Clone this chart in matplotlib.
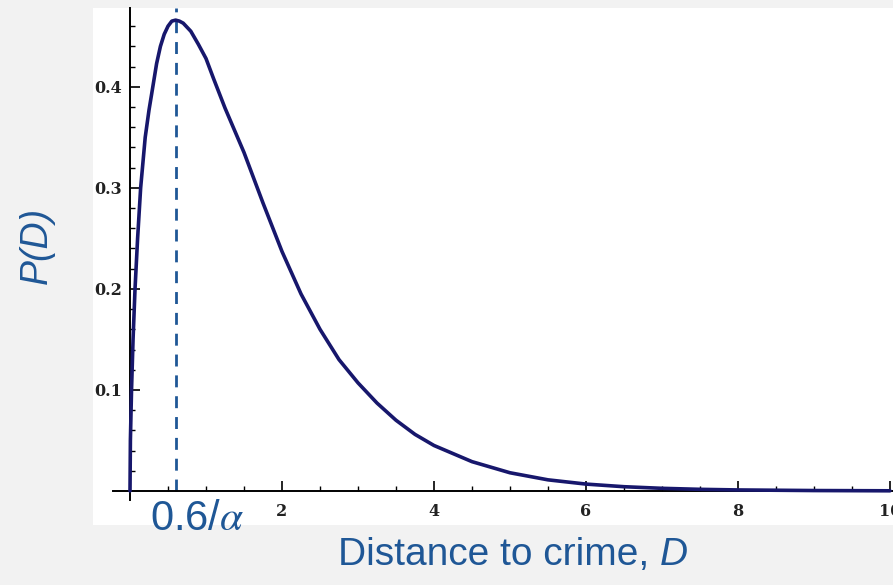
import matplotlib
matplotlib.use("Agg")
import matplotlib.pyplot as plt
import numpy as np
from matplotlib.ticker import FixedLocator

# values
distance = [0.0, 0.005, 0.02, 0.04, 0.066, 0.1, 0.14, 0.2, 0.25, 0.285, 0.35,
            0.4, 0.45, 0.5, 0.55, 0.6, 0.65, 0.7, 0.75, 0.8, 0.9, 1.0, 1.1,
            1.25, 1.5, 1.75, 2.0, 2.25, 2.5, 2.75, 3.0, 3.25, 3.5, 3.75, 4.0,
            4.5, 5.0, 5.5, 6.0, 6.5, 7.0, 7.5, 8.0, 9.0, 10.0]
prob = [0.0, 0.05, 0.10, 0.15, 0.20, 0.25, 0.30, 0.35, 0.377, 0.393, 0.423,
        0.440, 0.452, 0.460, 0.465, 0.466, 0.465, 0.463, 0.459, 0.455, 0.442,
        0.428, 0.408, 0.379, 0.335, 0.285, 0.237, 0.195, 0.16, 0.13, 0.107,
        0.087, 0.07, 0.056, 0.045, 0.029, 0.018, 0.011, 0.0068, 0.0042,
        0.0026, 0.0016, 0.001, 0.0004, 0.00015]
mode_x = 0.6
x_ticks = [2, 4, 6, 8, 10]
y_ticks = [0.1, 0.2, 0.3, 0.4]

text_blue = "#1f5796"
curve_col = "#17176c"
plt.rcParams["mathtext.fontset"] = "stix"

fig = plt.figure(figsize=(8.93, 5.85), dpi=100, facecolor="#f2f2f2")
ax = fig.add_axes([93 / 893, 60 / 585, 800 / 893, 517 / 585])
ax.set_facecolor("white")

ax.plot(distance, prob, color=curve_col, lw=2.6, solid_capstyle="round",
        solid_joinstyle="round", zorder=3)
ax.plot([mode_x, mode_x], [0, 0.478], color=text_blue, lw=2.0,
        dashes=(4.3, 3.2), zorder=2)

ax.set_xlim(-0.487, 10.04)
ax.set_ylim(-0.0337, 0.478)

for s in ["top", "right"]:
    ax.spines[s].set_visible(False)
ax.spines["left"].set_position(("data", 0))
ax.spines["bottom"].set_position(("data", 0))
ax.spines["left"].set_bounds(-0.009, 0.478)
ax.spines["bottom"].set_bounds(-0.22, 10.05)
ax.spines["left"].set_linewidth(1.4)
ax.spines["bottom"].set_linewidth(1.4)

# minor ticks only inside the drawn range
x_minor = [v for v in np.arange(0.5, 10.0, 0.5) if v % 2 != 0]
y_minor = [round(v, 2) for v in np.arange(0.02, 0.47, 0.02)]
ax.xaxis.set_major_locator(FixedLocator(x_ticks))
ax.xaxis.set_minor_locator(FixedLocator(x_minor))
ax.yaxis.set_major_locator(FixedLocator(y_ticks))
ax.yaxis.set_minor_locator(FixedLocator(y_minor))
ax.set_xticklabels([str(v) for v in x_ticks])
ax.set_yticklabels([str(v) for v in y_ticks])
ax.tick_params(which="major", direction="in", length=7, width=1.2)
ax.tick_params(axis="x", which="major", pad=9)
ax.tick_params(axis="y", which="major", pad=6)
ax.tick_params(which="minor", direction="in", length=3.5, width=1.0)
for lab in ax.get_xticklabels() + ax.get_yticklabels():
    lab.set_fontfamily("DejaVu Serif")
    lab.set_fontweight("bold")
    lab.set_fontsize(11.5)
    lab.set_color("#222222")

fig.text(37 / 893, 1 - 245 / 585, "P(D)", rotation=90,
         ha="center", va="center", fontsize=27, style="italic",
         family="Liberation Sans", color=text_blue)
xl = fig.text(338 / 893, 1 - 555 / 585, "Distance to crime, ", ha="left",
              va="center", fontsize=28, family="Liberation Sans",
              color=text_blue)
ax.annotate("D", xy=(1, 0.5), xycoords=xl, ha="left", va="center",
            fontsize=28, style="italic", family="Liberation Sans",
            color=text_blue, annotation_clip=False)
fig.text(197 / 893, 1 - 519 / 585, r"0.6/$\alpha$", ha="center", va="center",
         fontsize=30, family="Liberation Sans", color=text_blue)

plt.savefig("out.png", dpi=100, facecolor=fig.get_facecolor())
